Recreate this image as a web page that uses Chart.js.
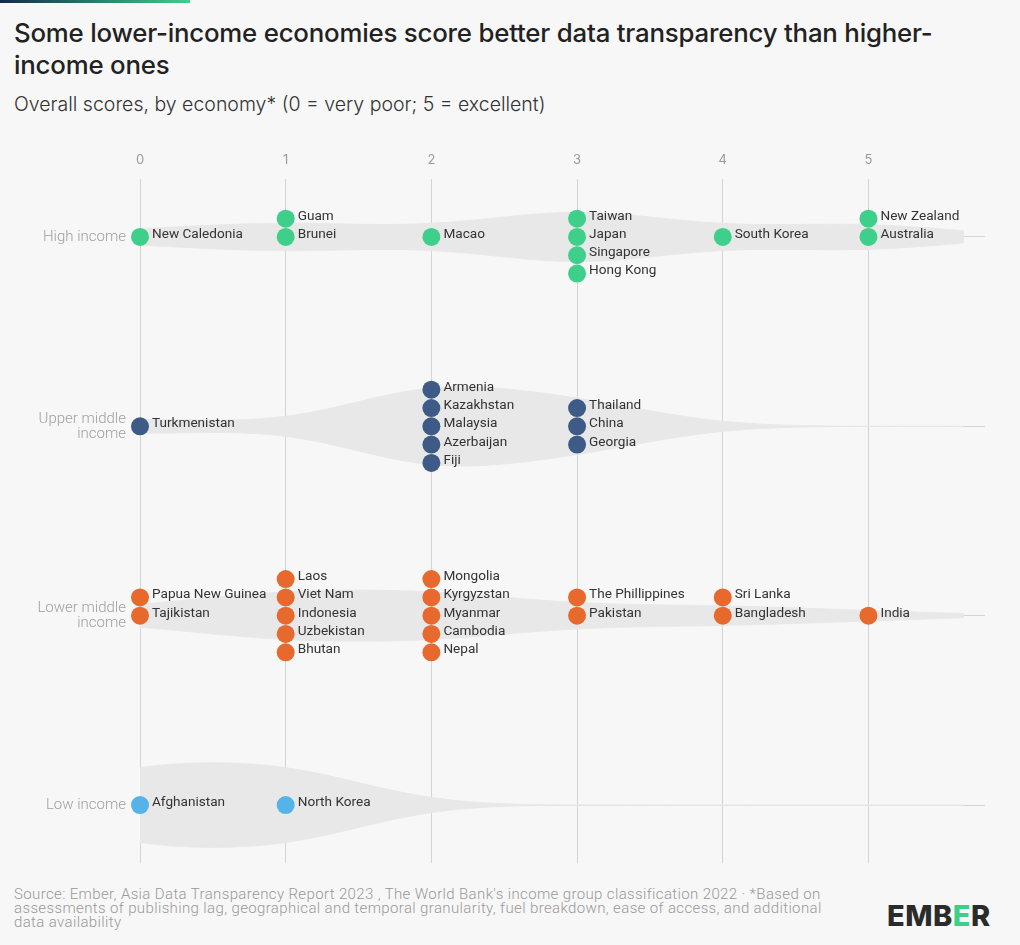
<!DOCTYPE html>
<html>
<head>
<meta charset="utf-8">
<script src="https://cdn.jsdelivr.net/npm/chart.js@4/dist/chart.umd.min.js"></script>
<style>
  html, body { margin: 0; padding: 0; background: #f7f7f7; }
  body { width: 1020px; height: 945px; position: relative; overflow: hidden; font-family: Inter, "Noto Sans", sans-serif; }
  .topbar { position: absolute; left: 0; top: 0; width: 190px; height: 3px; background: linear-gradient(to right, #13294b, #3ecf8b); }
  .title { position: absolute; left: 14px; top: 17px; font-size: 25.8px; line-height: 32px; font-weight: 500; color: #222; letter-spacing: -0.2px; }
  .subtitle { position: absolute; left: 14px; top: 93px; font-size: 19.5px; line-height: 22px; font-weight: 300; color: #333; }
  .chart { position: absolute; left: 0; top: 131px; line-height: 0; }
  .footer { position: absolute; left: 14px; top: 887px; font-family: Roboto, sans-serif; font-size: 15px; line-height: 14px; font-weight: 300; color: #999; letter-spacing: 0.37px; }
  .logo { position: absolute; left: 887px; top: 899px; font-size: 29px; line-height: 34px; font-weight: 800; color: #2b2b2b; letter-spacing: 0.5px; }
  .logo span { color: #3ecf8b; }
</style>
</head>
<body>
<div class="topbar"></div>
<div class="title">Some lower-income economies score better data transparency than higher-<br>income ones</div>
<div class="subtitle">Overall scores, by economy* (0 = very poor; 5 = excellent)</div>
<div class="chart"><canvas id="chart" width="1020" height="750"></canvas></div>
<div class="footer">Source: Ember, Asia Data Transparency Report 2023 , The World Bank's income group classification 2022 · *Based on<br>assessments of publishing lag, geographical and temporal granularity, fuel breakdown, ease of access, and additional<br>data availability</div>
<div class="logo">EMB<span>E</span>R</div>

<script>
// income groups, top to bottom
const groupLabels = [['High income'], ['Upper middle', 'income'], ['Lower middle', 'income'], ['Low income']];
const groupColors = ['#3ecf8b', '#3e5a86', '#e8692d', '#55b3ea'];

// economies per group, in stacking order (top to bottom within a score)
const highNames = ['New Caledonia', 'Guam', 'Brunei', 'Macao', 'Taiwan', 'Japan', 'Singapore', 'Hong Kong', 'South Korea', 'New Zealand', 'Australia'];
const highScores = [0, 1, 1, 2, 3, 3, 3, 3, 4, 5, 5];

const upperNames = ['Turkmenistan', 'Armenia', 'Kazakhstan', 'Malaysia', 'Azerbaijan', 'Fiji', 'Thailand', 'China', 'Georgia'];
const upperScores = [0, 2, 2, 2, 2, 2, 3, 3, 3];

const lowerNames = ['Papua New Guinea', 'Tajikistan', 'Laos', 'Viet Nam', 'Indonesia', 'Uzbekistan', 'Bhutan',
  'Mongolia', 'Kyrgyzstan', 'Myanmar', 'Cambodia', 'Nepal', 'The Phillippines', 'Pakistan', 'Sri Lanka', 'Bangladesh', 'India'];
const lowerScores = [0, 0, 1, 1, 1, 1, 1, 2, 2, 2, 2, 2, 3, 3, 4, 4, 5];

const lowNames = ['Afghanistan', 'North Korea'];
const lowScores = [0, 1];

const xTicks = [0, 1, 2, 3, 4, 5];

const groupNames = [highNames, upperNames, lowerNames, lowNames];
const groupScores = [highScores, upperScores, lowerScores, lowScores];

// layout / smoothing settings
const X_MAX = 5.8;
const Y_PAD = 0.306;
const DOT_STEP = 0.0966;      // one dot height in y units
const SLOT_ORDER = [0, -1, 1, 2, -2];
const BANDWIDTH = 0.6;
const VIOLIN_END = 5.65;
const VIOLIN_STEP = 0.05;
const VIOLIN_SCALE = 0.475;   // y units per density unit

function kde(scores, x) {
  let s = 0;
  scores.forEach(v => {
    const u = (x - v) / BANDWIDTH;
    s += Math.exp(-0.5 * u * u);
  });
  return s / (scores.length * BANDWIDTH * Math.sqrt(2 * Math.PI));
}

function violinPoints(scores, center) {
  const top = [], bottom = [];
  const steps = Math.round(VIOLIN_END / VIOLIN_STEP);
  for (let i = 0; i <= steps; i++) {
    const x = i * VIOLIN_STEP;
    const w = kde(scores, x) * VIOLIN_SCALE;
    top.push({ x, y: center - w });
    bottom.unshift({ x, y: center + w });
  }
  return top.concat(bottom);
}

function dotPoints(scores, names, center) {
  return scores.map((s, i) => {
    const same = scores.filter(v => v === s).length;
    const slots = SLOT_ORDER.slice(0, same).sort((a, b) => a - b);
    const pos = scores.slice(0, i).filter(v => v === s).length;
    return { x: s, y: center + slots[pos] * DOT_STEP, name: names[i] };
  });
}

const datasets = [];
groupScores.forEach((scores, g) => {
  datasets.push({
    type: 'scatter',
    data: violinPoints(scores, g),
    showLine: true,
    fill: 'shape',
    backgroundColor: '#e8e8e8',
    borderColor: '#e8e8e8',
    borderWidth: 1,
    pointRadius: 0,
    clip: false,
    order: 2
  });
});
groupScores.forEach((scores, g) => {
  datasets.push({
    type: 'scatter',
    data: dotPoints(scores, groupNames[g], g),
    backgroundColor: groupColors[g],
    borderWidth: 0,
    pointRadius: 9,
    clip: false,
    isDots: true,
    order: 1
  });
});

const nameLabels = {
  id: 'nameLabels',
  afterDatasetsDraw(chart) {
    const ctx = chart.ctx;
    ctx.save();
    ctx.font = '400 13.6px Roboto';
    ctx.fillStyle = '#333';
    ctx.textAlign = 'left';
    ctx.textBaseline = 'middle';
    chart.data.datasets.forEach((ds, i) => {
      if (!ds.isDots) return;
      chart.getDatasetMeta(i).data.forEach((pt, j) => {
        ctx.fillText(ds.data[j].name, pt.x + 12, pt.y - 2.5);
      });
    });
    ctx.restore();
  }
};

new Chart(document.getElementById('chart'), {
  type: 'scatter',
  data: { datasets },
  options: {
    responsive: false,
    animation: false,
    devicePixelRatio: 1,
    layout: { padding: { left: 0, right: 35, top: 0, bottom: 18 } },
    plugins: { legend: { display: false }, tooltip: { enabled: false } },
    scales: {
      x: {
        type: 'linear',
        position: 'top',
        min: 0,
        max: X_MAX,
        afterBuildTicks: scale => { scale.ticks = xTicks.map(v => ({ value: v })); },
        afterFit: scale => { scale.height = 48; scale.paddingLeft = 0; scale.paddingRight = 0; },
        grid: { color: '#d4d4d4', drawTicks: false },
        border: { display: false },
        ticks: { padding: 11, color: '#999', font: { family: 'Inter', size: 13 } }
      },
      y: {
        type: 'linear',
        reverse: true,
        min: -Y_PAD,
        max: groupLabels.length - 1 + Y_PAD,
        afterBuildTicks: scale => { scale.ticks = groupLabels.map((l, i) => ({ value: i })); },
        afterFit: scale => { scale.width = 140; scale.paddingTop = 0; scale.paddingBottom = 0; },
        grid: { color: '#d4d4d4', drawTicks: false },
        border: { display: false },
        ticks: {
          padding: 14,
          color: '#a0a0a0',
          font: { family: 'Roboto', size: 15, weight: '300', lineHeight: 1.0 },
          callback: v => groupLabels[v]
        }
      }
    }
  },
  plugins: [nameLabels]
});
</script>
</body>
</html>
